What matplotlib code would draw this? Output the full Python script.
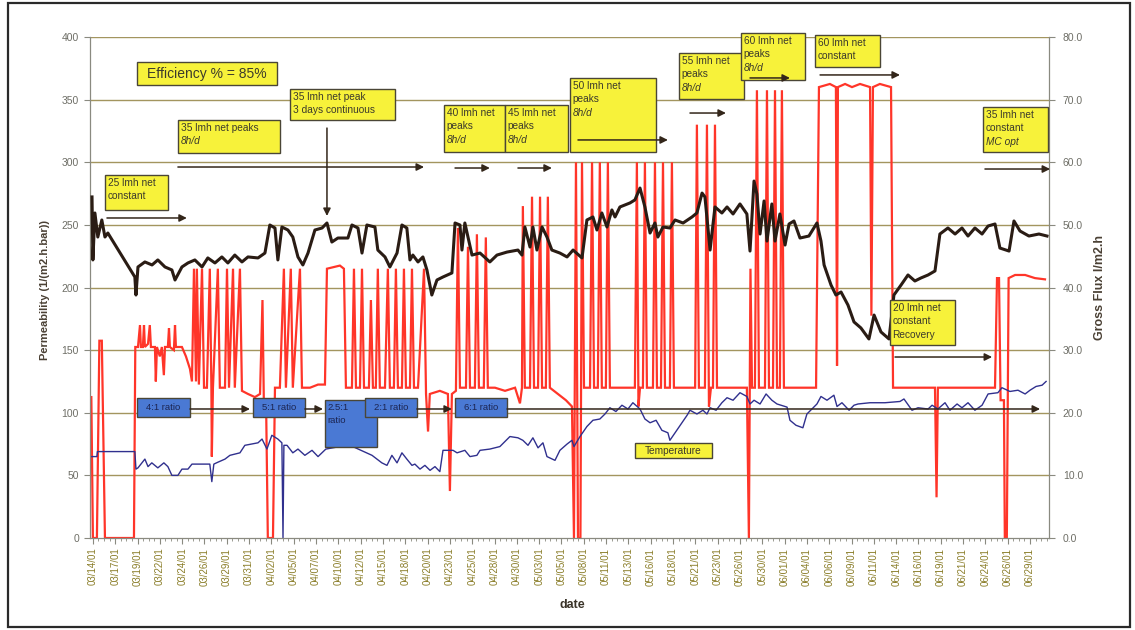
import matplotlib
matplotlib.use("Agg")
import matplotlib.pyplot as plt
from matplotlib.patches import Rectangle
from matplotlib.ticker import MultipleLocator, FormatStrFormatter

plt.rcParams['font.family'] = ['Liberation Sans', 'DejaVu Sans']

# ---------------------------------------------------------------- data
dates = ["03/14/01", "03/17/01", "03/19/01", "03/22/01", "03/24/01", "03/26/01",
         "03/29/01", "03/31/01", "04/02/01", "04/05/01", "04/07/01", "04/10/01",
         "04/12/01", "04/15/01", "04/18/01", "04/20/01", "04/23/01", "04/25/01",
         "04/28/01", "04/30/01", "05/03/01", "05/05/01", "05/08/01", "05/11/01",
         "05/13/01", "05/16/01", "05/18/01", "05/21/01", "05/23/01", "05/26/01",
         "05/30/01", "06/01/01", "06/04/01", "06/06/01", "06/09/01", "06/11/01",
         "06/14/01", "06/16/01", "06/19/01", "06/21/01", "06/24/01", "06/26/01",
         "06/29/01"]

# permeability, l/(m2.h.bar), x in date-label units
perm_x = [-0.04, 0.00, 0.09, 0.22, 0.40, 0.54, 0.67, 1.88, 1.93, 2.02,
          2.33, 2.65, 2.91, 3.23, 3.54, 3.68, 3.99, 4.26, 4.57, 4.89,
          5.15, 5.47, 5.78, 6.05, 6.36, 6.68, 6.95, 7.40, 7.71, 7.93,
          8.16, 8.29, 8.47, 8.74, 8.96, 9.19, 9.41, 9.64, 9.95, 10.27,
          10.49, 10.71, 10.98, 11.43, 11.61, 11.88, 12.06, 12.28, 12.64, 12.77,
          13.09, 13.31, 13.63, 13.85, 14.07, 14.21, 14.34, 14.57, 14.79, 14.97,
          15.19, 15.42, 15.69, 16.09, 16.23, 16.45, 16.54, 16.67, 16.81, 16.99,
          17.35, 17.79, 18.11, 18.56, 19.05, 19.23, 19.36, 19.59, 19.72, 19.90,
          20.13, 20.35, 20.57, 20.93, 21.25, 21.52, 21.92, 22.14, 22.41, 22.59,
          22.81, 23.04, 23.26, 23.40, 23.62, 24.07, 24.29, 24.52, 24.74, 24.97,
          25.19, 25.32, 25.55, 25.86, 26.09, 26.45, 26.85, 27.07, 27.30, 27.43,
          27.66, 27.88, 28.19, 28.42, 28.69, 29.00, 29.31, 29.45, 29.63, 29.76,
          29.90, 30.08, 30.21, 30.43, 30.57, 30.79, 31.02, 31.20, 31.42, 31.69,
          32.09, 32.45, 32.63, 32.77, 33.08, 33.30, 33.53, 33.84, 34.11, 34.42,
          34.78, 35.01, 35.32, 35.68, 35.90, 36.22, 36.53, 36.84, 37.11, 37.43,
          37.74, 37.96, 38.32, 38.64, 38.95, 39.22, 39.53, 39.85, 40.12, 40.43,
          40.65, 41.06, 41.28, 41.55, 41.95, 42.40, 42.76]
perm_y = [272.3, 222.0, 259.5, 240.3, 253.9, 240.3, 243.5, 208.4, 194.0, 216.4,
          220.4, 218.0, 222.0, 216.4, 214.0, 206.0, 216.4, 219.6, 222.0, 216.4,
          223.6, 219.6, 224.4, 219.6, 225.9, 220.4, 224.4, 223.6, 227.5, 249.9,
          247.5, 222.0, 248.3, 245.9, 240.3, 224.4, 218.0, 227.5, 245.9, 247.5,
          251.5, 236.3, 239.5, 239.5, 249.9, 247.5, 227.5, 249.9, 248.3, 229.9,
          224.4, 216.4, 227.5, 249.9, 247.5, 222.0, 225.9, 220.4, 224.4, 214.0,
          194.0, 206.0, 208.4, 211.6, 251.5, 249.9, 229.9, 251.5, 240.3, 225.9,
          227.5, 220.4, 225.9, 228.3, 229.9, 225.9, 248.3, 232.3, 248.3, 229.9,
          248.3, 240.3, 229.9, 227.5, 224.4, 229.9, 223.6, 253.9, 256.3, 245.9,
          259.5, 248.3, 261.9, 256.3, 264.3, 267.5, 269.9, 279.4, 264.3, 243.5,
          251.5, 240.3, 248.3, 247.5, 253.9, 251.5, 256.3, 259.5, 275.4, 272.3,
          229.9, 264.3, 259.5, 264.3, 258.7, 266.7, 258.7, 229.1, 285.0, 274.6,
          242.7, 269.1, 237.1, 266.7, 237.1, 258.7, 233.9, 250.7, 253.1, 239.5,
          241.1, 251.5, 237.1, 218.0, 202.0, 194.0, 196.4, 186.0, 172.5, 167.7,
          158.9, 178.0, 164.5, 158.9, 194.0, 202.0, 210.0, 205.2, 207.6, 210.0,
          213.2, 242.7, 247.5, 242.7, 247.5, 241.1, 247.5, 242.7, 249.1, 250.7,
          231.5, 229.1, 253.1, 245.1, 241.1, 242.7, 241.1]

# gross flux, l/m2.h
flux_x = [-0.13, -0.07, 0.00, 0.18, 0.29, 0.40, 0.54, 1.84, 1.90, 2.02,
          2.11, 2.15, 2.24, 2.29, 2.33, 2.47, 2.55, 2.60, 2.78, 2.82,
          2.87, 3.00, 3.09, 3.18, 3.23, 3.36, 3.41, 3.45, 3.63, 3.68,
          3.72, 3.99, 4.17, 4.35, 4.44, 4.53, 4.62, 4.66, 4.75, 4.89,
          4.98, 5.11, 5.24, 5.31, 5.33, 5.38, 5.60, 5.69, 5.92, 6.01,
          6.10, 6.28, 6.36, 6.59, 6.68, 6.95, 7.26, 7.49, 7.60, 7.66,
          7.76, 7.84, 8.07, 8.16, 8.38, 8.56, 8.65, 8.87, 8.96, 9.28,
          9.37, 9.73, 10.09, 10.40, 10.49, 11.07, 11.25, 11.34, 11.61, 11.70,
          11.79, 11.97, 12.06, 12.15, 12.37, 12.46, 12.55, 12.68, 12.77, 12.86,
          13.09, 13.22, 13.31, 13.49, 13.58, 13.67, 13.85, 13.94, 14.03, 14.21,
          14.30, 14.39, 14.57, 14.84, 14.93, 15.02, 15.10, 15.55, 15.91, 16.00,
          16.09, 16.27, 16.36, 16.45, 16.72, 16.81, 16.90, 17.12, 17.21, 17.30,
          17.52, 17.61, 17.70, 18.02, 18.47, 18.92, 19.14, 19.23, 19.27, 19.36,
          19.59, 19.68, 19.77, 19.95, 20.04, 20.13, 20.30, 20.39, 20.48, 20.84,
          21.20, 21.47, 21.56, 21.65, 21.74, 21.85, 21.92, 22.01, 22.28, 22.37,
          22.46, 22.63, 22.72, 22.81, 22.99, 23.08, 23.17, 23.62, 24.07, 24.29,
          24.38, 24.45, 24.52, 24.65, 24.74, 24.83, 25.10, 25.19, 25.28, 25.46,
          25.55, 25.64, 25.86, 25.95, 26.04, 26.54, 26.99, 27.07, 27.16, 27.43,
          27.52, 27.61, 27.70, 27.79, 27.88, 27.97, 28.55, 29.31, 29.40, 29.47,
          29.54, 29.67, 29.76, 29.85, 30.12, 30.21, 30.30, 30.48, 30.57, 30.66,
          30.79, 30.88, 30.97, 31.69, 32.41, 32.54, 33.03, 33.30, 33.35, 33.39,
          33.71, 34.02, 34.38, 34.83, 34.89, 34.96, 35.27, 35.77, 35.86, 36.62,
          37.74, 37.81, 37.87, 38.86, 39.76, 40.43, 40.52, 40.61, 40.68, 40.83,
          40.87, 40.96, 41.04, 41.33, 41.78, 42.22, 42.67]
flux_y = [22.5, 22.5, 0.0, 0.0, 31.5, 31.5, 0.0, 0.0, 30.5, 30.5,
          34.0, 30.5, 30.5, 34.0, 30.5, 31.0, 34.0, 30.5, 30.5, 25.0,
          30.5, 29.0, 30.5, 26.0, 30.5, 30.5, 33.5, 30.5, 30.0, 34.0,
          30.5, 30.5, 29.0, 27.0, 25.0, 43.0, 25.0, 43.0, 24.5, 43.0,
          24.0, 24.0, 43.0, 24.0, 13.0, 24.0, 43.0, 24.0, 24.0, 43.0,
          24.0, 43.0, 24.0, 43.0, 23.5, 23.0, 22.5, 23.0, 38.0, 22.0,
          22.0, 0.0, 0.0, 24.0, 24.0, 43.0, 24.0, 43.0, 24.0, 43.0,
          24.0, 24.0, 24.5, 24.5, 43.0, 43.5, 43.0, 24.0, 24.0, 43.0,
          24.0, 24.0, 43.0, 24.0, 24.0, 38.0, 24.0, 24.0, 43.0, 24.0,
          24.0, 43.0, 24.0, 24.0, 43.0, 24.0, 24.0, 43.0, 24.0, 24.0,
          43.0, 24.0, 24.0, 43.0, 23.0, 17.0, 23.0, 23.5, 23.0, 7.5,
          23.0, 23.5, 49.5, 24.0, 24.0, 46.5, 24.0, 24.0, 48.5, 24.0,
          24.0, 48.0, 24.0, 24.0, 23.5, 24.0, 21.5, 24.0, 53.0, 24.0,
          24.0, 54.5, 24.0, 24.0, 54.5, 24.0, 24.0, 54.5, 24.0, 23.0,
          22.0, 21.0, 0.0, 60.0, 0.0, 0.0, 60.0, 24.0, 24.0, 60.0,
          24.0, 24.0, 60.0, 24.0, 24.0, 60.0, 24.0, 24.0, 24.0, 24.0,
          60.0, 21.0, 24.0, 24.0, 60.0, 24.0, 24.0, 60.0, 24.0, 24.0,
          60.0, 24.0, 24.0, 60.0, 24.0, 24.0, 24.0, 66.0, 24.0, 24.0,
          66.0, 21.0, 24.0, 24.0, 66.0, 24.0, 24.0, 24.0, 0.0, 43.0,
          24.0, 24.0, 71.5, 24.0, 24.0, 71.5, 24.0, 24.0, 71.5, 24.0,
          24.0, 71.5, 24.0, 24.0, 24.0, 72.0, 72.5, 72.0, 27.5, 72.0,
          72.5, 72.0, 72.5, 72.0, 35.5, 72.0, 72.5, 72.0, 24.0, 24.0,
          24.0, 6.5, 24.0, 24.0, 24.0, 24.0, 41.5, 41.5, 22.0, 22.0,
          0.0, 0.0, 41.5, 42.0, 42.0, 41.5, 41.3]

# temperature, read on the left scale
temp_x = [-0.13, 0.18, 0.20, 1.88, 1.93, 2.02, 2.33, 2.47, 2.64, 2.91,
          3.18, 3.36, 3.54, 3.81, 3.99, 4.26, 4.44, 5.24, 5.33, 5.42,
          5.60, 5.92, 6.14, 6.59, 6.81, 7.40, 7.58, 7.80, 8.02, 8.29,
          8.47, 8.52, 8.56, 8.70, 8.96, 9.19, 9.50, 9.82, 10.09, 10.44,
          11.07, 11.52, 12.51, 12.95, 13.18, 13.40, 13.63, 13.85, 14.07, 14.30,
          14.43, 14.66, 14.88, 15.11, 15.33, 15.55, 15.69, 16.14, 16.32, 16.67,
          16.90, 17.21, 17.35, 17.79, 18.24, 18.69, 19.05, 19.27, 19.50, 19.72,
          19.95, 20.17, 20.35, 20.71, 20.93, 21.25, 21.47, 21.56, 21.83, 22.14,
          22.41, 22.72, 22.95, 23.17, 23.44, 23.71, 23.98, 24.20, 24.52, 24.74,
          24.97, 25.24, 25.50, 25.77, 25.86, 26.09, 26.32, 26.63, 26.76, 27.07,
          27.34, 27.52, 27.66, 27.93, 28.19, 28.42, 28.69, 29.00, 29.31, 29.45,
          29.63, 29.90, 30.17, 30.43, 30.66, 31.11, 31.24, 31.51, 31.82, 32.00,
          32.45, 32.63, 32.90, 33.21, 33.35, 33.57, 33.89, 34.11, 34.29, 34.83,
          35.50, 36.17, 36.35, 36.71, 36.98, 37.43, 37.61, 37.87, 38.19, 38.41,
          38.73, 38.95, 39.22, 39.53, 39.85, 40.12, 40.56, 40.74, 41.10, 41.46,
          41.78, 42.00, 42.27, 42.54, 42.72]
temp_y = [65, 65, 69, 69, 55, 56, 63, 57, 60, 56,
          60, 57, 50, 50, 55, 55, 59, 59, 45, 59,
          60.5, 63, 66, 68, 74, 76, 79, 71, 82, 79,
          76, 0, 74, 74, 68, 71, 66, 70, 65, 71,
          73, 74, 66, 60, 58, 66, 60, 68, 63, 58,
          59, 55, 58, 54, 57, 53, 70, 70, 68, 70,
          65, 66, 70, 71, 73, 81, 80, 78, 74, 80,
          72, 76, 65, 62, 70, 75, 78, 73, 81, 89,
          94, 95, 99, 104, 101, 106, 103, 108, 103, 95,
          92, 94, 86, 84, 78, 84, 90, 98, 102, 99,
          102, 99, 104, 102, 108, 112, 110, 116, 113, 107,
          110, 107, 115, 110, 107, 104.5, 94, 90, 88, 99,
          107, 113, 110, 114, 105, 108, 102, 106, 107, 108,
          108, 109, 111, 102, 104, 103, 106, 103, 108, 102,
          107, 104, 108, 102, 106, 115, 116, 120, 117, 118,
          115, 118, 121, 122, 125]

assert len(perm_x) == len(perm_y)
assert len(flux_x) == len(flux_y)
assert len(temp_x) == len(temp_y)

# ---------------------------------------------------------------- styling
W, H = 1135, 630
BLACK = "#2a1c14"
RED = "#ff3529"
BLUE = "#30308e"
GRID = "#a3955f"
OLIVE = "#8a7d28"
GREY = "#6e6e66"
SPINE = "#8a8a80"
YELLOW = "#f7f23a"
BOXBLUE = "#4a79d4"
EDGE = "#4a4636"
ARROW = "#33261a"

fig = plt.figure(figsize=(W / 100, H / 100), dpi=100)
fig.patch.set_facecolor("white")
rect = [90 / W, 92 / H, 959 / W, 501 / H]
XLIM = (-0.13, 42.85)

# flux axis sits underneath so the permeability trace lies on top of it
ax1 = fig.add_axes(rect)
ax2 = ax1.twinx()
ax2.set_zorder(ax1.get_zorder() - 1)
ax1.patch.set_visible(False)
ax2.patch.set_facecolor("white")

ax1.set_xlim(*XLIM)
ax1.set_ylim(0, 400)
ax2.set_ylim(0, 80)

for v in range(10, 81, 10):
    ax2.axhline(v, color=GRID, lw=1.0, zorder=0)

ax2.plot(flux_x, flux_y, color=RED, lw=1.6, zorder=2, solid_joinstyle="miter")
ax1.plot(temp_x, temp_y, color=BLUE, lw=1.0, zorder=2)
ax1.plot(perm_x, perm_y, color=BLACK, lw=2.2, zorder=3)

# axes decoration
for ax in (ax1, ax2):
    ax.spines["top"].set_visible(False)
ax1.spines["right"].set_visible(False)
ax2.spines["left"].set_visible(False)
ax2.spines["bottom"].set_visible(False)
for s in ("left", "bottom"):
    ax1.spines[s].set_color(SPINE)
    ax1.spines[s].set_linewidth(0.9)
ax2.spines["right"].set_color(SPINE)
ax2.spines["right"].set_linewidth(0.9)

ax1.set_xticks(range(len(dates)))
ax1.set_xticklabels(dates, rotation=90, fontsize=7, color=OLIVE)
ax1.xaxis.set_minor_locator(MultipleLocator(0.25))
ax1.tick_params(axis="x", which="major", length=4, color=SPINE, pad=3)
ax1.tick_params(axis="x", which="minor", length=2, color=SPINE)

ax1.yaxis.set_major_locator(MultipleLocator(50))
ax1.tick_params(axis="y", length=4, color=SPINE, labelsize=7.5,
                labelcolor=GREY, pad=4)
ax2.yaxis.set_major_locator(MultipleLocator(10))
ax2.yaxis.set_major_formatter(FormatStrFormatter("%.1f"))
ax2.tick_params(axis="y", length=4, color=SPINE, labelsize=7.5,
                labelcolor=GREY, pad=6)
ax2.set_xlim(*XLIM)

fig.text(45 / W, 1 - 290 / H, "Permeability (1/(m2.h.bar))", rotation=90,
         ha="center", va="center", fontsize=8, fontweight="bold", color="#4a4034")
fig.text(1100 / W, 1 - 288 / H, "Gross Flux l/m2.h", rotation=90,
         ha="center", va="center", fontsize=9, fontweight="bold", color="#4a4034")
fig.text(572 / W, 1 - 605 / H, "date", ha="center", va="center",
         fontsize=9, fontweight="bold", color="#3a3328")

# ---------------------------------------------------------------- notes
ax3 = fig.add_axes(rect)
ax3.set_xlim(*XLIM)
ax3.set_ylim(0, 400)
ax3.axis("off")
ax3.set_zorder(ax1.get_zorder() + 1)

LINE = 10.8


def note(x0, x1, ytop, ybot, lines, face=YELLOW, tcolor="#3c3a2c", fs=7.3,
         italic=(), center=False):
    ax3.add_patch(Rectangle((x0, ybot), x1 - x0, ytop - ybot, facecolor=face,
                            edgecolor=EDGE, lw=1.0, clip_on=False, zorder=5))
    for i, line in enumerate(lines):
        style = "italic" if line in italic else "normal"
        if center:
            ax3.text((x0 + x1) / 2, (ytop + ybot) / 2, line, ha="center",
                     va="center", fontsize=fs, color=tcolor, style=style,
                     zorder=6, clip_on=False)
        else:
            ax3.text(x0 + 0.12, ytop - 2.2 - i * LINE, line, ha="left", va="top",
                     fontsize=fs, color=tcolor, style=style, zorder=6,
                     clip_on=False)


def arrow(x0, y0, x1, y1):
    ax3.annotate("", xy=(x1, y1), xytext=(x0, y0), annotation_clip=False,
                 arrowprops=dict(arrowstyle="-|>", color=ARROW, lw=1.1,
                                 mutation_scale=11, shrinkA=0, shrinkB=0),
                 zorder=6)


note(1.97, 8.25, 380.0, 361.7, ["Efficiency % = 85%"], fs=10, center=True)
note(0.54, 3.36, 289.8, 261.9, ["25 lmh net", "constant"])
note(3.81, 8.38, 333.7, 307.4, ["35 lmh net peaks", "8h/d"], italic=("8h/d",))
note(8.83, 13.54, 358.5, 333.7, ["35 lmh net peak", "3 days continuous"])
note(15.73, 18.47, 345.7, 308.2, ["40 lmh net", "peaks", "8h/d"], italic=("8h/d",))
note(18.47, 21.29, 345.7, 308.2, ["45 lmh net", "peaks", "8h/d"], italic=("8h/d",))
note(21.38, 25.24, 367.3, 308.2, ["50 lmh net", "peaks", "8h/d"], italic=("8h/d",))
note(26.27, 29.18, 387.2, 350.5, ["55 lmh net", "peaks", "8h/d"], italic=("8h/d",))
note(29.05, 31.91, 403.2, 365.7, ["60 lmh net", "peaks", "8h/d"], italic=("8h/d",))
note(32.36, 35.28, 401.6, 376.0, ["60 lmh net", "constant"])
note(39.89, 42.80, 344.1, 308.2, ["35 lmh net", "constant", "MC opt"],
     italic=("MC opt",))
note(35.72, 38.64, 190.0, 154.0, ["20 lmh net", "constant", "Recovery"])
note(24.29, 27.75, 75.8, 63.9, ["Temperature"], fs=7.3, center=True)

arrow(0.63, 255.5, 4.21, 255.5)
arrow(3.81, 296.2, 14.84, 296.2)
arrow(10.49, 327.3, 10.49, 257.1)
arrow(16.23, 295.4, 17.79, 295.4)
arrow(19.05, 295.4, 20.57, 295.4)
arrow(21.74, 317.8, 25.77, 317.8)
arrow(26.76, 339.3, 28.37, 339.3)
arrow(29.45, 367.3, 31.24, 367.3)
arrow(32.59, 369.7, 36.17, 369.7)
arrow(39.98, 294.6, 42.90, 294.6)
arrow(35.95, 144.5, 40.30, 144.5)

# membrane ratio sequence
arrow(4.35, 103.0, 7.04, 103.0)
arrow(9.50, 103.0, 10.31, 103.0)
arrow(14.52, 103.0, 16.09, 103.0)
arrow(18.56, 103.0, 42.45, 103.0)
note(1.97, 4.35, 111.8, 96.6, ["4:1 ratio"], face=BOXBLUE, tcolor="#1c2552",
     fs=6.8, center=True)
note(7.17, 9.50, 111.8, 96.6, ["5:1 ratio"], face=BOXBLUE, tcolor="#1c2552",
     fs=6.8, center=True)
note(10.40, 12.73, 110.2, 72.7, ["2.5:1", "ratio"], face=BOXBLUE,
     tcolor="#1c2552", fs=6.8)
note(12.19, 14.52, 111.8, 96.6, ["2:1 ratio"], face=BOXBLUE, tcolor="#1c2552",
     fs=6.8, center=True)
note(16.23, 18.56, 111.8, 96.6, ["6:1 ratio"], face=BOXBLUE, tcolor="#1c2552",
     fs=6.8, center=True)

# outer frame
fig.add_artist(Rectangle((8 / W, 3 / H), 1122 / W, 624 / H,
                         transform=fig.transFigure, fill=False,
                         edgecolor="#2a2a2a", lw=1.6))

fig.savefig("out.png", dpi=100, facecolor="white")
